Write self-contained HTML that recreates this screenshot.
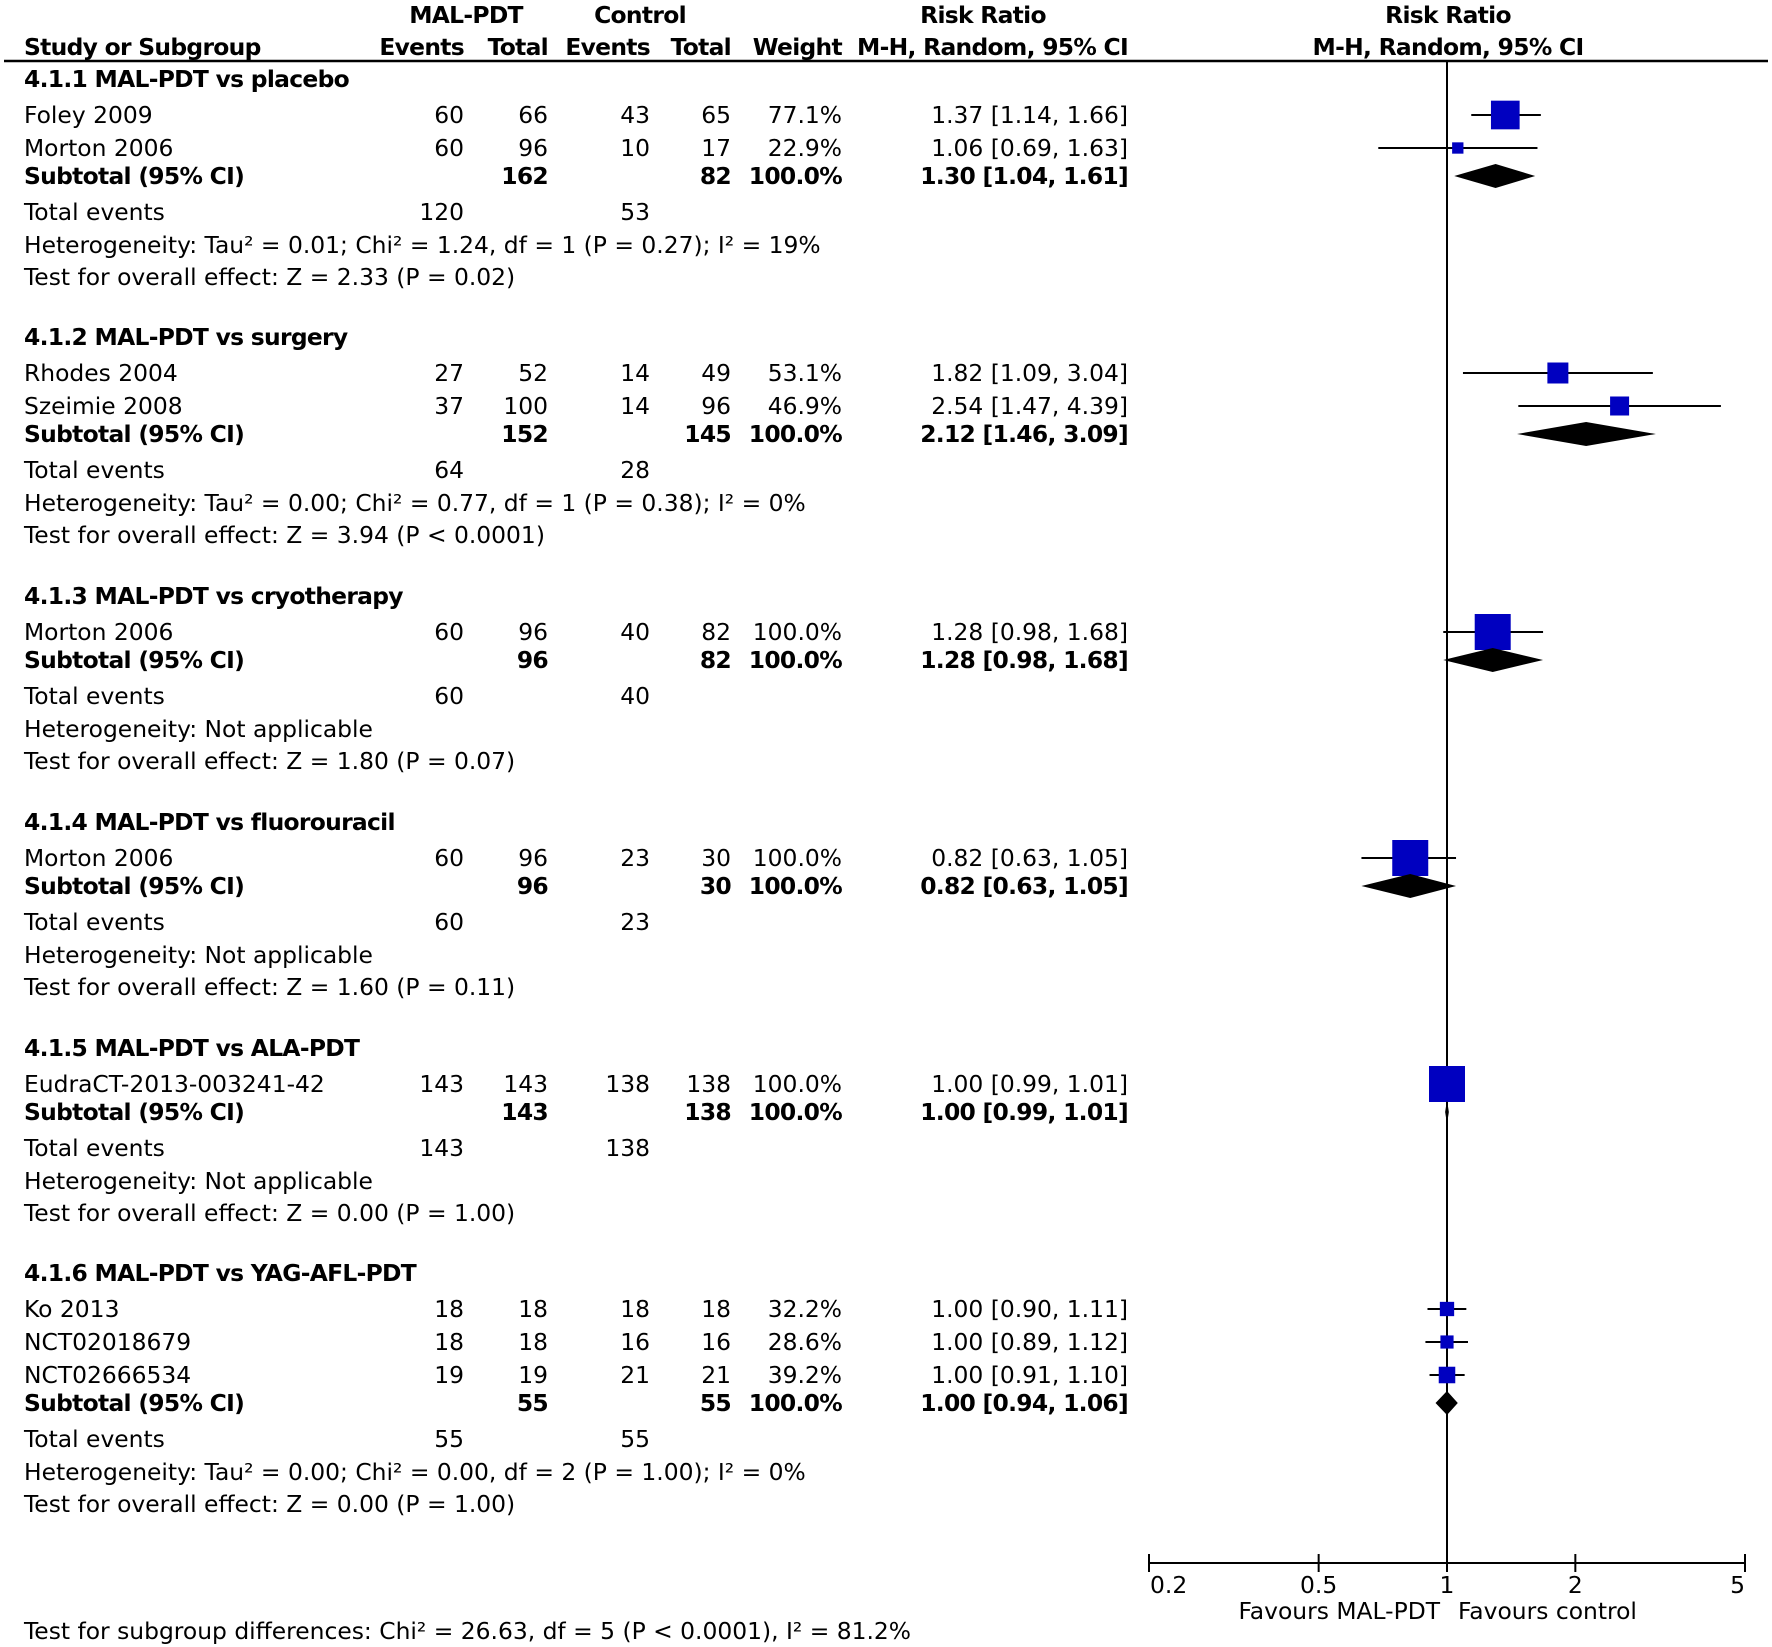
<!DOCTYPE html>
<html><head><meta charset="utf-8"><style>
html,body{margin:0;padding:0;background:#fff}
svg{display:block}
text{font-family:"DejaVu Sans","Liberation Sans",sans-serif;font-size:23.4px;fill:#000}
.b{font-weight:bold;letter-spacing:-0.7px}
</style></head><body>
<svg id="chart" width="1772" height="1647" viewBox="0 0 1772 1647" xmlns="http://www.w3.org/2000/svg"></svg>
<script>
// ---- data ----
const groupTitles = ["4.1.1 MAL-PDT vs placebo","4.1.2 MAL-PDT vs surgery","4.1.3 MAL-PDT vs cryotherapy","4.1.4 MAL-PDT vs fluorouracil","4.1.5 MAL-PDT vs ALA-PDT","4.1.6 MAL-PDT vs YAG-AFL-PDT"];
const studyGroup = [0,0,1,1,2,3,4,5,5,5];
const studyNames = ["Foley 2009","Morton 2006","Rhodes 2004","Szeimie 2008","Morton 2006","Morton 2006","EudraCT-2013-003241-42","Ko 2013","NCT02018679","NCT02666534"];
const expEvents = [60,60,27,37,60,60,143,18,18,19];
const expTotal = [66,96,52,100,96,96,143,18,18,19];
const ctlEvents = [43,10,14,14,40,23,138,18,16,21];
const ctlTotal = [65,17,49,96,82,30,138,18,16,21];
const weights = [77.1,22.9,53.1,46.9,100.0,100.0,100.0,32.2,28.6,39.2];
const rr = [1.37,1.06,1.82,2.54,1.28,0.82,1.00,1.00,1.00,1.00];
const lo = [1.14,0.69,1.09,1.47,0.98,0.63,0.99,0.90,0.89,0.91];
const hi = [1.66,1.63,3.04,4.39,1.68,1.05,1.01,1.11,1.12,1.10];
const subExpTotal = [162,152,96,96,143,55];
const subCtlTotal = [82,145,82,30,138,55];
const subRR = [1.30,2.12,1.28,0.82,1.00,1.00];
const subLo = [1.04,1.46,0.98,0.63,0.99,0.94];
const subHi = [1.61,3.09,1.68,1.05,1.01,1.06];
const totExp = [120,64,60,60,143,55];
const totCtl = [53,28,40,23,138,55];
const hetText = ["Heterogeneity: Tau² = 0.01; Chi² = 1.24, df = 1 (P = 0.27); I² = 19%","Heterogeneity: Tau² = 0.00; Chi² = 0.77, df = 1 (P = 0.38); I² = 0%","Heterogeneity: Not applicable","Heterogeneity: Not applicable","Heterogeneity: Not applicable","Heterogeneity: Tau² = 0.00; Chi² = 0.00, df = 2 (P = 1.00); I² = 0%"];
const testText = ["Test for overall effect: Z = 2.33 (P = 0.02)","Test for overall effect: Z = 3.94 (P < 0.0001)","Test for overall effect: Z = 1.80 (P = 0.07)","Test for overall effect: Z = 1.60 (P = 0.11)","Test for overall effect: Z = 0.00 (P = 1.00)","Test for overall effect: Z = 0.00 (P = 1.00)"];
const tickValues = [0.2,0.5,1,2,5];
const tickLabels = ["0.2","0.5","1","2","5"];

// ---- layout ----
const svg = document.getElementById('chart');
const NS = 'http://www.w3.org/2000/svg';
const X0 = 1149, X1 = 1745, AXIS_Y = 1563;
function xs(v){ return X0 + (Math.log10(v) - Math.log10(0.2)) / (Math.log10(5) - Math.log10(0.2)) * (X1 - X0); }
function el(tag, attrs){ const e = document.createElementNS(NS, tag); for (const k in attrs) e.setAttribute(k, attrs[k]); svg.appendChild(e); return e; }
function txt(x, y, s, anchor, bold, name){
  const t = el('text', {x:x, y:y+8, 'text-anchor':anchor||'start'});
  if (bold) t.setAttribute('class','b');
  
  
  t.textContent = s; return t;
}
function fmt(v){ return v.toFixed(2); }
function ci(a,b,c){ return fmt(a)+' ['+fmt(b)+', '+fmt(c)+']'; }
const C = {ev1:464, tot1:548, ev2:650, tot2:731, w:842, ci:1128};

// headers
txt(466,15,'MAL-PDT','middle',true,'header-mal-pdt');
txt(640,15,'Control','middle',true,'header-control');
txt(983,15,'Risk Ratio','middle',true,'header-risk-ratio');
txt(1448,15,'Risk Ratio','middle',true,'header-risk-ratio-plot');
txt(24,47,'Study or Subgroup','start',true,'header-study');
txt(C.ev1,47,'Events','end',true,'header-events-mal');
txt(C.tot1,47,'Total','end',true,'header-total-mal');
txt(C.ev2,47,'Events','end',true,'header-events-control');
txt(C.tot2,47,'Total','end',true,'header-total-control');
txt(C.w,47,'Weight','end',true,'header-weight');
txt(C.ci,47,'M-H, Random, 95% CI','end',true,'header-ci');
txt(1448,47,'M-H, Random, 95% CI','middle',true,'header-ci-plot');
let l = el('line',{x1:4,x2:1768,y1:61,y2:61,stroke:'#000','stroke-width':2.5});
 

// null line
l = el('line',{x1:xs(1),x2:xs(1),y1:61,y2:AXIS_Y,stroke:'#000','stroke-width':2});
 

const groupY = [79,337,596,822,1048,1273];
const ROW = 33;
for (let g=0; g<groupTitles.length; g++){
  let y = groupY[g];
  txt(24,y,groupTitles[g],'start',true,'group-title');
  y += 36;
  for (let i=0;i<studyNames.length;i++){
    if (studyGroup[i]!==g) continue;
    txt(24,y,studyNames[i],'start',false,'study-name');
    txt(C.ev1,y,String(expEvents[i]),'end',false,'exp-events');
    txt(C.tot1,y,String(expTotal[i]),'end',false,'exp-total');
    txt(C.ev2,y,String(ctlEvents[i]),'end',false,'ctl-events');
    txt(C.tot2,y,String(ctlTotal[i]),'end',false,'ctl-total');
    txt(C.w,y,weights[i].toFixed(1)+'%','end',false,'weight');
    txt(C.ci,y,ci(rr[i],lo[i],hi[i]),'end',false,'risk-ratio-ci');
    const ln = el('line',{x1:xs(lo[i]),x2:xs(hi[i]),y1:y,y2:y,stroke:'#000','stroke-width':2});
     
    const s = 4 + 0.32*weights[i];
    const r = el('rect',{x:xs(rr[i])-s/2,y:y-s/2,width:s,height:s,fill:'#0000c0'});
     
    y += ROW;
  }
  y -= 5;
  txt(24,y,'Subtotal (95% CI)','start',true,'subtotal-label');
  txt(C.tot1,y,String(subExpTotal[g]),'end',true,'subtotal-exp-total');
  txt(C.tot2,y,String(subCtlTotal[g]),'end',true,'subtotal-ctl-total');
  txt(C.w,y,'100.0%','end',true,'subtotal-weight');
  txt(C.ci,y,ci(subRR[g],subLo[g],subHi[g]),'end',true,'subtotal-ci');
  const d = el('polygon',{points:[xs(subLo[g])+','+y, xs(subRR[g])+','+(y-12), xs(subHi[g])+','+y, xs(subRR[g])+','+(y+12)].join(' '),fill:'#000'});
   
  y += 36;
  txt(24,y,'Total events','start',false,'total-events-label');
  txt(C.ev1,y,String(totExp[g]),'end',false,'total-events-exp');
  txt(C.ev2,y,String(totCtl[g]),'end',false,'total-events-ctl');
  y += 33;
  txt(24,y,hetText[g],'start',false,'heterogeneity');
  y += 32;
  txt(24,y,testText[g],'start',false,'overall-effect');
}

// axis
l = el('line',{x1:X0,x2:X1,y1:AXIS_Y,y2:AXIS_Y,stroke:'#000','stroke-width':2});
 
for (let i=0;i<tickValues.length;i++){
  const x = xs(tickValues[i]);
  const t = el('line',{x1:x,x2:x,y1:AXIS_Y-9,y2:AXIS_Y+9,stroke:'#000','stroke-width':2});
   
  const anchor = i===0?'start':(i===tickValues.length-1?'end':'middle');
  txt(x + (i===0?1:0), 1585, tickLabels[i], anchor, false, 'x-tick-label');
}
txt(1440,1611,'Favours MAL-PDT','end',false,'favours-left');
txt(1458,1611,'Favours control','start',false,'favours-right');
txt(24,1631,'Test for subgroup differences: Chi² = 26.63, df = 5 (P < 0.0001), I² = 81.2%','start',false,'subgroup-differences');
</script>
</body></html>
